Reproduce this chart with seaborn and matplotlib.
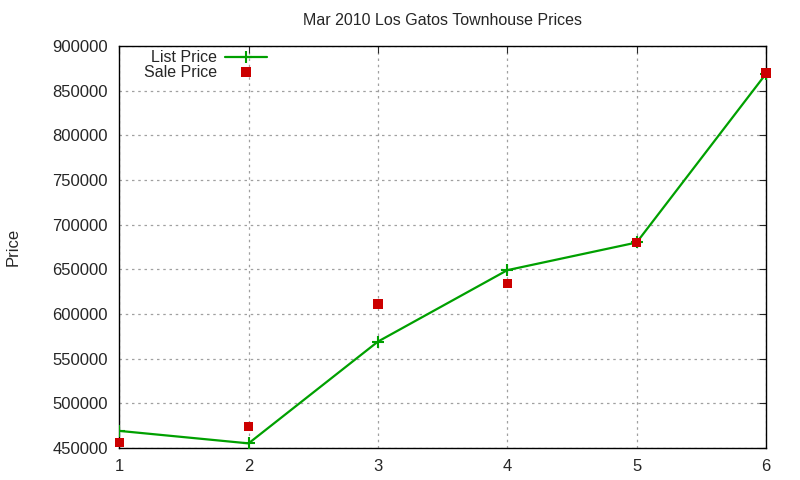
import pandas as pd
import matplotlib
matplotlib.use("Agg")
import matplotlib.pyplot as plt
import seaborn as sns

month = [1, 2, 3, 4, 5, 6]
list_price = [469000, 455000, 569000, 649000, 680000, 869000]
sale_price = [456000, 474000, 611000, 634000, 680000, 870000]

df = pd.DataFrame({"x": month, "list": list_price, "sale": sale_price})

green = "#00a000"
red = "#cc0000"

sns.set_style("white")
plt.rcParams['font.family'] = ['Liberation Sans', 'DejaVu Sans']

fig = plt.figure(figsize=(8, 4.8), dpi=100)
ax = fig.add_axes([0.149, 0.067, 0.8085, 0.837])

sns.lineplot(data=df, x="x", y="list", ax=ax, color=green, linewidth=1.6,
             marker="+", markersize=8, markeredgewidth=1.5,
             markeredgecolor=green, legend=False, zorder=3)
sns.scatterplot(data=df, x="x", y="sale", ax=ax, color=red, marker="s",
                s=45, edgecolor="none", legend=False, zorder=4, clip_on=False)

ax.set_xlim(1, 6)
ax.set_ylim(450000, 900000)
ax.set_xticks(month)
ax.set_yticks(range(450000, 900001, 50000))
ax.grid(True, color="#a0a0a0", linestyle=(0, (2, 3)), linewidth=0.9)
ax.tick_params(direction="in", labelsize=12, top=True, right=True, length=5, pad=8)
for s in ax.spines.values():
    s.set_color("black")
    s.set_linewidth(1)

ax.set_xlabel("")
ax.set_ylabel("Price", fontsize=12)
ax.yaxis.set_label_coords(-0.153, 0.5)
ax.set_title("Mar 2010 Los Gatos Townhouse Prices", fontsize=11.5, pad=15)

# gnuplot-style key: text right-aligned, sample to the right
tr = ax.transAxes
ax.text(0.1515, 0.972, "List Price", transform=tr, ha="right", va="center", fontsize=11.5)
ax.text(0.1515, 0.935, "Sale Price", transform=tr, ha="right", va="center", fontsize=11.5)
ax.plot([0.1638, 0.2287], [0.972, 0.972], transform=tr, color=green, linewidth=1.6)
ax.plot([0.1963], [0.972], transform=tr, color=green, marker="+", markersize=8,
        markeredgewidth=1.5)
ax.plot([0.1963], [0.935], transform=tr, color=red, marker="s", markersize=6.7,
        markeredgewidth=0)

fig.savefig("out.png", dpi=100)
